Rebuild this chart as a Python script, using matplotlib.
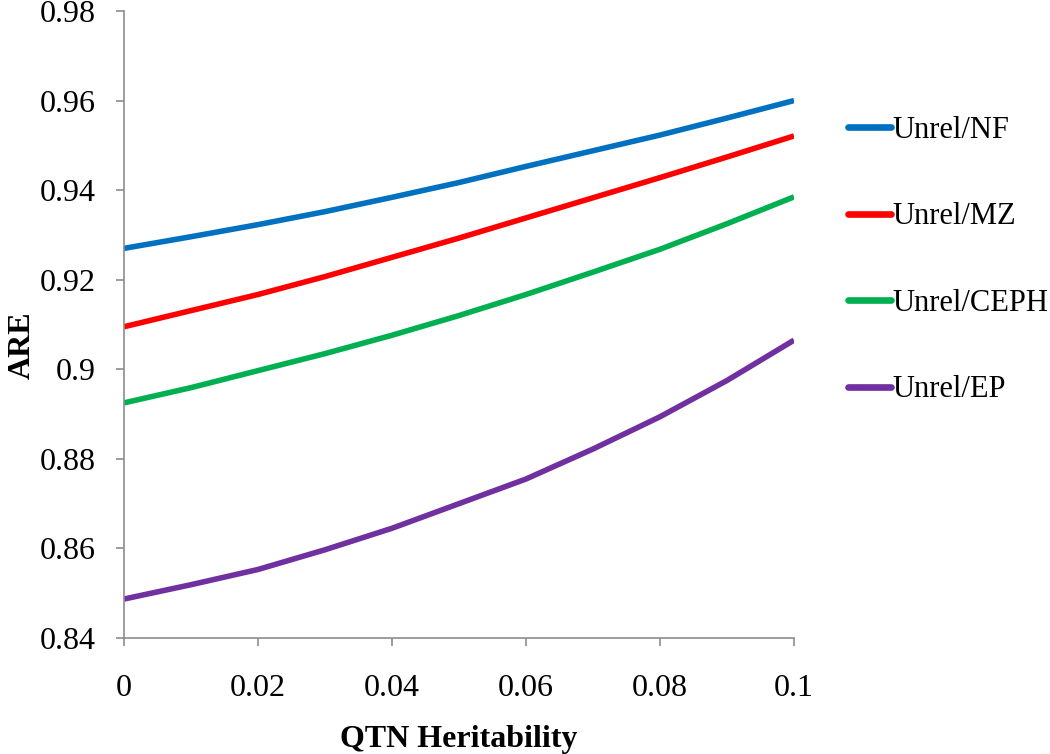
import matplotlib
matplotlib.use("Agg")
import matplotlib.pyplot as plt
import numpy as np
from matplotlib.ticker import FixedLocator, FixedFormatter

# Data
heritability = [0.0, 0.01, 0.02, 0.03, 0.04, 0.05, 0.06, 0.07, 0.08, 0.09, 0.10]
are_nf   = [0.9270, 0.9296, 0.9323, 0.9352, 0.9384, 0.9417, 0.9453, 0.9488, 0.9523, 0.9561, 0.9600]
are_mz   = [0.9095, 0.9131, 0.9167, 0.9207, 0.9250, 0.9293, 0.9338, 0.9383, 0.9428, 0.9474, 0.9521]
are_ceph = [0.8925, 0.8959, 0.8997, 0.9035, 0.9076, 0.9120, 0.9167, 0.9217, 0.9268, 0.9325, 0.9385]
are_ep   = [0.8487, 0.8519, 0.8553, 0.8597, 0.8645, 0.8700, 0.8755, 0.8822, 0.8894, 0.8975, 0.9065]

series_labels = ["Unrel/NF", "Unrel/MZ", "Unrel/CEPH", "Unrel/EP"]
series_colors = ["#0070C0", "#FF0000", "#00B050", "#7030A0"]

x_ticks = [0, 0.02, 0.04, 0.06, 0.08, 0.1]
x_tick_labels = ["0", "0.02", "0.04", "0.06", "0.08", "0.1"]
y_ticks = [0.84, 0.86, 0.88, 0.9, 0.92, 0.94, 0.96, 0.98]
y_tick_labels = ["0.84", "0.86", "0.88", "0.9", "0.92", "0.94", "0.96", "0.98"]

plt.rcParams['font.family'] = ['Liberation Serif', 'DejaVu Serif']
FS = 23

fig = plt.figure(figsize=(10.5, 7.54), dpi=100)
ax = fig.add_axes([124/1050, 1 - 638/754, (794-124)/1050, (638-11)/754])

for vals, lab, col in zip([are_nf, are_mz, are_ceph, are_ep], series_labels, series_colors):
    ax.plot(heritability, vals, color=col, lw=4.0, label=lab,
            solid_capstyle='butt', solid_joinstyle='round')

ax.set_xlim(0, 0.1)
ax.set_ylim(0.84, 0.98)
ax.xaxis.set_major_locator(FixedLocator(x_ticks))
ax.xaxis.set_major_formatter(FixedFormatter(x_tick_labels))
ax.yaxis.set_major_locator(FixedLocator(y_ticks))
ax.yaxis.set_major_formatter(FixedFormatter(y_tick_labels))

for s in ['top', 'right']:
    ax.spines[s].set_visible(False)
for s in ['left', 'bottom']:
    ax.spines[s].set_color('#8c8c8c')
    ax.spines[s].set_linewidth(1.2)

ax.tick_params(axis='both', direction='out', length=6, width=1.2, color='#8c8c8c',
               labelsize=FS, labelcolor='black')
ax.tick_params(axis='x', pad=20)
ax.tick_params(axis='y', pad=14)

ax.set_xlabel("QTN Heritability", fontsize=FS, fontweight='bold', labelpad=16)
ax.set_ylabel("ARE", fontsize=FS, fontweight='bold')
ax.yaxis.set_label_coords(22/1050, 1 - 345/754, transform=fig.transFigure)
ax.yaxis.label.set_verticalalignment('center')

leg = ax.legend(loc='upper left', bbox_to_anchor=(848/1050, 1 - 116/754),
                bbox_transform=fig.transFigure, frameon=False, fontsize=22,
                handlelength=1.4, handletextpad=0.04, labelspacing=1.88,
                borderpad=0, borderaxespad=0)
for h in leg.get_lines():
    h.set_linewidth(4.8)
    h.set_solid_capstyle('round')

fig.savefig("out.png", dpi=100)
